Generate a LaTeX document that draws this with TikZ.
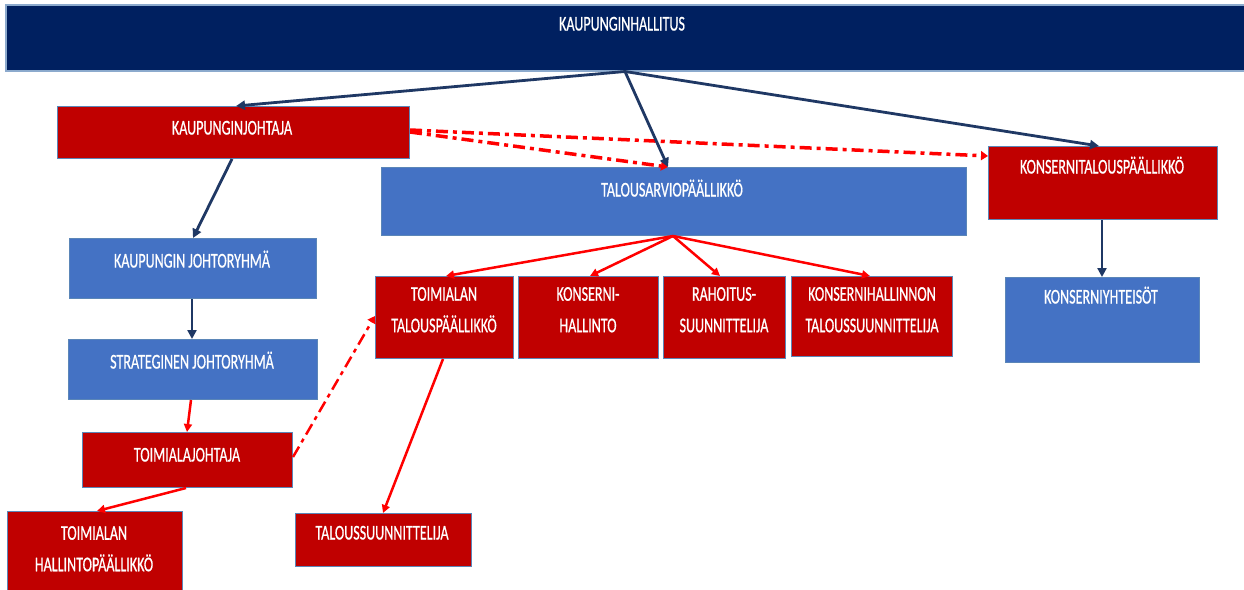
\documentclass[tikz,border=0pt]{standalone}
\usepackage{fontspec}
\setmainfont{Carlito}
\newfontfamily\boxfont{Carlito}[FakeBold=0.8]
\usetikzlibrary{arrows.meta}
\definecolor{navy}{HTML}{002060}
\definecolor{navyline}{HTML}{1F3864}
\definecolor{boxred}{HTML}{C00000}
\definecolor{boxblue}{HTML}{4472C4}
\definecolor{edge}{HTML}{5B86B8}
\definecolor{linered}{HTML}{FF0000}
\newcommand\sq[1]{\scalebox{0.67}[1]{#1}}
\begin{document}
\begin{tikzpicture}[x=1pt,y=-1pt,
  box/.style={draw=edge, line width=1pt, inner sep=0pt, anchor=north west},
  navybox/.style={box, fill=navy, draw=edge!70, line width=1.5pt},
  redbox/.style={box, fill=boxred},
  bluebox/.style={box, fill=boxblue},
  txt/.style={text=white, inner sep=0pt, font=\boxfont\fontsize{21}{31.5}\selectfont, text height=13pt, text depth=0pt},
  txtm/.style={text=white, inner sep=0pt, font=\boxfont\fontsize{21}{31.5}\selectfont, align=center},
  navyarr/.style={draw=navyline, line width=2.8pt, -{Triangle[length=9pt,width=9pt]}},
  redarr/.style={draw=linered, line width=2.5pt, -{Triangle[length=8pt,width=8pt]}},
  dasharr/.style={draw=linered, line width=3.5pt, dash pattern=on 12pt off 5pt on 4pt off 5pt, -{Triangle[length=7pt,width=9pt]}},
  dasharrthin/.style={dasharr, line width=2.5pt}
]
\useasboundingbox (0,0) rectangle (1244,589);
\clip (0,0) rectangle (1244,589);
\fill[white] (0,0) rectangle (1244,589);

% boxes
\node[navybox, minimum width=1241pt, minimum height=66pt] (top) at (5,4) {};
\node[redbox, minimum width=352pt, minimum height=52pt] (kj) at (57,106) {};
\node[bluebox, minimum width=585pt, minimum height=68pt] (ta) at (381,167) {};
\node[redbox, minimum width=229pt, minimum height=73pt] (kt) at (988,146) {};
\node[bluebox, minimum width=194pt, minimum height=85pt] (ky) at (1005,277) {};
\node[bluebox, minimum width=247pt, minimum height=60pt] (kjr) at (69,238) {};
\node[bluebox, minimum width=249pt, minimum height=60pt] (sj) at (68,339) {};
\node[redbox, minimum width=210pt, minimum height=55pt] (tj) at (82,432) {};
\node[redbox, minimum width=175pt, minimum height=85pt] (th) at (7,511) {};
\node[redbox, minimum width=176pt, minimum height=53pt] (ts) at (295,513) {};
\node[redbox, minimum width=138pt, minimum height=82pt] (r1) at (375,276) {};
\node[redbox, minimum width=140pt, minimum height=82pt] (r2) at (518,276) {};
\node[redbox, minimum width=122pt, minimum height=82pt] (r3) at (663,276) {};
\node[redbox, minimum width=161pt, minimum height=80pt] (r4) at (791,276) {};

% texts
\node[txt] (top-t) at (622,24) {\sq{KAUPUNGINHALLITUS}};
\node[txt] (kj-t) at (232,128) {\sq{KAUPUNGINJOHTAJA}};
\node[txt] (ta-t) at (672,190) {\sq{TALOUSARVIOPÄÄLLIKKÖ}};
\node[txt] (kt-t) at (1102,167) {\sq{KONSERNITALOUSPÄÄLLIKKÖ}};
\node[txt] (ky-t) at (1101,297) {\sq{KONSERNIYHTEISÖT}};
\node[txt] (kjr-t) at (192,261) {\sq{KAUPUNGIN JOHTORYHMÄ}};
\node[txt] (sj-t) at (192,362) {\sq{STRATEGINEN JOHTORYHMÄ}};
\node[txt] (tj-t) at (187,455) {\sq{TOIMIALAJOHTAJA}};
\node[txt] (ts-t) at (382,533) {\sq{TALOUSSUUNNITTELIJA}};
\node[txtm] (th-t) at (94,548.75) {\sq{TOIMIALAN}\\\sq{HALLINTOPÄÄLLIKKÖ}};
\node[txtm] (r1-t) at (444,309.75) {\sq{TOIMIALAN}\\\sq{TALOUSPÄÄLLIKKÖ}};
\node[txtm] (r2-t) at (588,309.75) {\sq{KONSERNI-}\\\sq{HALLINTO}};
\node[txtm] (r3-t) at (724,309.75) {\sq{RAHOITUS-}\\\sq{SUUNNITTELIJA}};
\node[txtm] (r4-t) at (872,309.75) {\sq{KONSERNIHALLINNON}\\\sq{TALOUSSUUNNITTELIJA}};

% dash-dot connectors
\draw[dasharr] (kj.east |- 0,130) -- (kt.west |- 0,156);
\draw[dasharr] (kj.east |- 0,132) -- (ta.north -| 668,0);
\draw[dasharrthin] (tj.east |- 0,457) -- (r1.west |- 0,316);

% navy connectors
\draw[navyarr] (top.south -| 625,0) -- (kj.north -| 236,0);
\draw[navyarr] (top.south -| 625,0) -- (ta.north -| 668,0);
\draw[navyarr] (top.south -| 625,0) -- (kt.north -| 1099,0);
\draw[navyarr] (kj.south -| 232,0) -- (kjr.north -| 193,0);
\draw[navyarr] (kjr.south -| 192,0) -- (sj.north -| 192,0);
\draw[navyarr] (kt.south -| 1102,0) -- (ky.north -| 1102,0);

% red connectors
\draw[redarr] (sj.south -| 191,0) -- (tj.north -| 187,0);
\draw[redarr] (tj.south -| 186,0) -- (th.north -| 97,0);
\draw[redarr] (ta.south -| 673,0) -- (r1.north -| 446,0);
\draw[redarr] (ta.south -| 673,0) -- (r2.north -| 590,0);
\draw[redarr] (ta.south -| 673,0) -- (r3.north -| 720,0);
\draw[redarr] (ta.south -| 673,0) -- (r4.north -| 870,0);
\draw[redarr] (r1.south -| 443,0) -- (ts.north -| 383,0);
\end{tikzpicture}
\end{document}
